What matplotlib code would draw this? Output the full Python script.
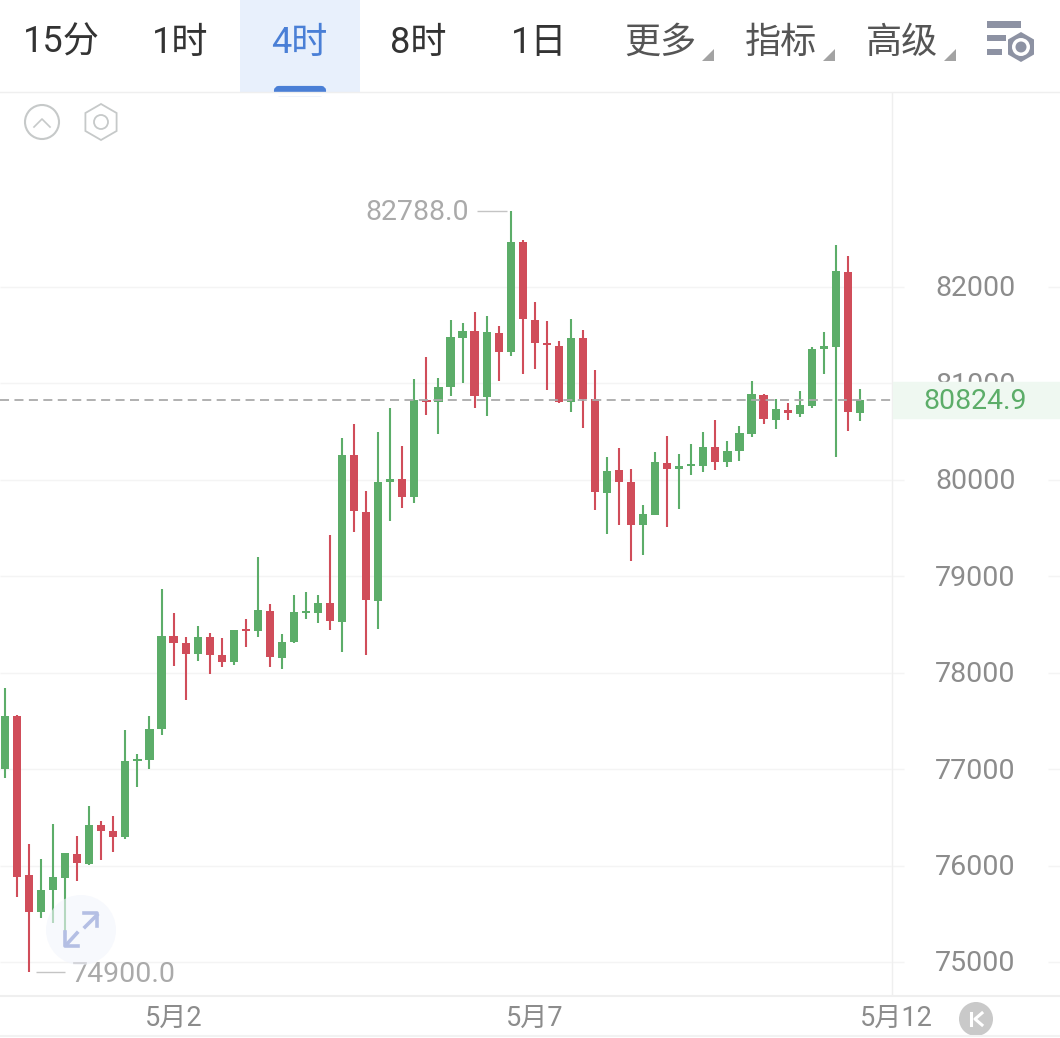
import matplotlib
matplotlib.use("Agg")
import matplotlib.pyplot as plt
from matplotlib.patches import Circle, FancyBboxPatch, Polygon, RegularPolygon, Rectangle

plt.rcParams['font.family'] = ['Roboto', 'Noto Sans CJK SC', 'DejaVu Sans']

opens = [76999, 77551, 75902, 75516, 75744, 75871, 76120, 76016, 76418, 76356,
         76293, 77088, 77095, 77413, 78381, 78305, 78191, 78367, 78184, 78114,
         78450, 78436, 78640, 78156, 78319, 78616, 78622, 78720, 78529, 80255,
         79667, 78747, 79978, 80006, 79822, 80828, 80807, 80960, 81474, 81541,
         80862, 81526, 81323, 82467, 81658, 81416, 81388, 80807, 81468, 80835,
         79867, 80102, 79978, 79532, 79639, 80178, 80116, 80147, 80147, 80338,
         80182, 80299, 80479, 80883, 80624, 80728, 80686, 80769, 81357, 81381,
         82159, 80697]
closes = [77551, 75885, 75522, 75747, 75879, 76128, 76027, 76421, 76359, 76300,
          77082, 77108, 77417, 78384, 78311, 78194, 78374, 78187, 78114, 78440,
          78430, 78647, 78163, 78322, 78627, 78637, 78723, 78540, 80258, 79677,
          78754, 79975, 80012, 79825, 80828, 80811, 80966, 81478, 81544, 80870,
          81530, 81329, 82470, 81665, 81419, 81395, 80811, 81474, 80839, 79874,
          80092, 79981, 79535, 79646, 80185, 80116, 80141, 80161, 80344, 80188,
          80302, 80483, 80890, 80628, 80732, 80690, 80776, 81360, 81388, 82163,
          80707, 80825]
highs = [77845, 77560, 76224, 76065, 76428, 76134, 76307, 76618, 76465, 76514,
         77406, 77154, 77551, 78865, 78622, 78374, 78485, 78409, 78363, 78443,
         78554, 79200, 78716, 78399, 78806, 78837, 78809, 79425, 80431, 80576,
         79881, 80493, 80745, 80351, 81049, 81277, 81053, 81658, 81630, 81744,
         81699, 81596, 82788, 82490, 81848, 81650, 81443, 81665, 81554, 81139,
         80234, 80327, 80110, 79736, 80286, 80458, 80265, 80369, 80496, 80621,
         80406, 80559, 81025, 80887, 80842, 80797, 80925, 81381, 81530, 82432,
         82325, 80939]
lows = [76908, 75677, 74900, 75453, 75402, 75249, 75837, 76003, 76061, 76144,
        76273, 76815, 77005, 77357, 78070, 77714, 78122, 77987, 78062, 78077,
        78264, 78367, 78062, 78036, 78311, 78554, 78513, 78443, 78218, 79459,
        78181, 78457, 79570, 79711, 79757, 80669, 80472, 80870, 81008, 80745,
        80665, 81025, 81281, 81095, 81150, 80935, 80800, 80704, 80538, 79691,
        79442, 79535, 79162, 79218, 79632, 79514, 79701, 80050, 80085, 80099,
        80133, 80192, 80441, 80579, 80531, 80618, 80652, 80742, 81098, 80237,
        80510, 80613]

price_ticks = [75000, 76000, 77000, 78000, 79000, 80000, 81000, 82000]
date_positions = [14, 44, 74]
date_labels = ['5月2', '5月7', '5月12']
tabs = ['15分', '1时', '4时', '8时', '1日', '更多', '指标', '高级']
high_label = '82788.0'
low_label = '74900.0'
last_price = 80824.9

GREEN = '#5cad69'
RED = '#d04d5a'
GRID = '#f4f4f4'
LABEL = '#8c8c8c'

W, H = 1060, 1038
fig = plt.figure(figsize=(W / 100, H / 100), dpi=100, facecolor='white')

# chart area, y 92..995 px, whole width so the grid runs behind the price labels
ax = fig.add_axes([0, (H - 995) / H, 1, (995 - 92) / H])
ax.set_xlim(-0.415, 87.62)
ax.set_ylim(74658, 84022)
for side in ax.spines.values():
    side.set_visible(False)
ax.set_yticks([])
ax.set_xticks(date_positions, date_labels, fontsize=19.5, color=LABEL)
ax.tick_params(axis='x', length=0, pad=7)

ax.hlines(price_ticks, -0.415, 87.62, color=GRID, lw=1, zorder=1)

xs = list(range(len(opens)))
colors = [GREEN if c >= o else RED for o, c in zip(opens, closes)]
ax.vlines(xs, lows, highs, color=colors, lw=1.5, zorder=2)
bodies = [abs(c - o) for o, c in zip(opens, closes)]
bottoms = [min(o, c) for o, c in zip(opens, closes)]
ax.bar(xs, bodies, bottom=bottoms, width=0.68, color=colors, zorder=3)

ax.hlines(last_price, -0.415, 73.67, color='#aaaaaa', lw=1.3, ls=(0, (5, 3)), zorder=4)
ax.axvspan(73.67, 87.62, color='white', zorder=4.2)
ax.hlines(price_ticks, [73.67], [74.7], color=GRID, lw=1, zorder=4.3)
ax.hlines(price_ticks, [86.6], [87.62], color=GRID, lw=1, zorder=4.3)
ax.axvline(73.67, color='#efefef', lw=1, zorder=4.4)

for p in price_ticks:
    ax.text(80.6, p - 20, str(p), fontsize=20.5, color=LABEL, ha='center', va='center', zorder=4.5)

band_half = 186
ax.add_patch(Rectangle((73.75, last_price - band_half), 14, band_half * 2, color='#eff8f1', zorder=5))
ax.text(80.6, last_price - 15, f'{last_price:.1f}', fontsize=20.5, color=GREEN, ha='center', va='center', zorder=6)

# high and low markers
ax.hlines(highs[42], 39.2, 41.7, color='#c4c4c4', lw=1, zorder=2)
ax.text(38.5, highs[42] - 20, high_label, fontsize=20.5, color='#aaaaaa', ha='right', va='center')
ax.hlines(lows[2], 2.6, 5.0, color='#c4c4c4', lw=1, zorder=2)
ax.text(5.55, lows[2] - 25, low_label, fontsize=20.5, color='#aaaaaa', ha='left', va='center')

# everything around the chart, in pixel coordinates
ui = fig.add_axes([0, 0, 1, 1], facecolor='none')
ui.set_xlim(0, W)
ui.set_ylim(H, 0)
ui.axis('off')

ui.add_patch(Rectangle((240, 0), 120, 92, color='#e8f0fc', lw=0))
ui.add_patch(FancyBboxPatch((276, 88), 48, 6, boxstyle='round,pad=0,rounding_size=3',
                            mutation_aspect=1, fc='#4a7fd6', ec='#4a7fd6', lw=3, clip_on=True))
ui.add_patch(Rectangle((240, 92), 120, 4, color='white', lw=0))
ui.plot([0, W], [92, 92], color='#efefef', lw=1)
ui.plot([0, W], [996, 996], color='#efefef', lw=1.5)
ui.plot([0, W], [1036, 1036], color='#f2f2f2', lw=1.5)

tab_x = [61, 180, 299, 418, 539, 660, 781, 902]
tab_colors = ['#333333', '#333333', '#4a7fd6', '#333333', '#333333', '#555555', '#555555', '#555555']
for x, label, c in zip(tab_x, tabs, tab_colors):
    ui.text(x, 43, label, fontsize=26, color=c, ha='center', va='center')
for x in [702, 823, 944]:
    ui.add_patch(Polygon([(x, 61), (x + 12, 61), (x + 12, 49)], color='#a3a3a3', lw=0))

# settings icon, top right
icon = '#8d92a3'
ui.add_patch(Rectangle((987, 21), 34, 7, color=icon, lw=0))
ui.add_patch(Rectangle((987, 35), 19, 6, color=icon, lw=0))
ui.add_patch(Rectangle((987, 49), 15, 6, color=icon, lw=0))
ui.add_patch(RegularPolygon((1021, 47), 6, radius=15, color=icon, lw=0))
ui.add_patch(Circle((1021, 47), 9, color='white', lw=0))
ui.add_patch(Circle((1021, 47), 5.5, color=icon, lw=0))

# collapse and settings icons under the tabs
ui.add_patch(Circle((42, 122), 17, fc='none', ec='#c6c9c9', lw=1.5))
ui.plot([34, 42, 50], [127, 119, 127], color='#c6c9c9', lw=1.2)
ui.add_patch(RegularPolygon((101, 122), 6, radius=18, fc='none', ec='#c6c9c9', lw=1.3))
ui.add_patch(Circle((101, 122), 7, fc='none', ec='#c6c9c9', lw=1.3))

# expand button over the chart
ui.add_patch(Circle((81, 930), 35, color='#f2f5fc', alpha=0.6, lw=0))
arrow = '#b4bfe4'
ui.plot([67, 77], [944, 933], color=arrow, lw=2.6)
ui.plot([65, 65, 78], [932, 946, 946], color=arrow, lw=2.6)
ui.plot([85, 97], [927, 915], color=arrow, lw=2.6)
ui.plot([84, 97, 97], [913, 913, 926], color=arrow, lw=2.6)

# jump to latest button
ui.add_patch(Circle((976, 1019), 17, color='#c9c9c9', lw=0))
ui.plot([971, 971], [1013, 1025], color='white', lw=2.2)
ui.plot([982, 975, 982], [1013, 1019, 1025], color='white', lw=2.2)

fig.savefig('out.png', dpi=100, facecolor='white')
